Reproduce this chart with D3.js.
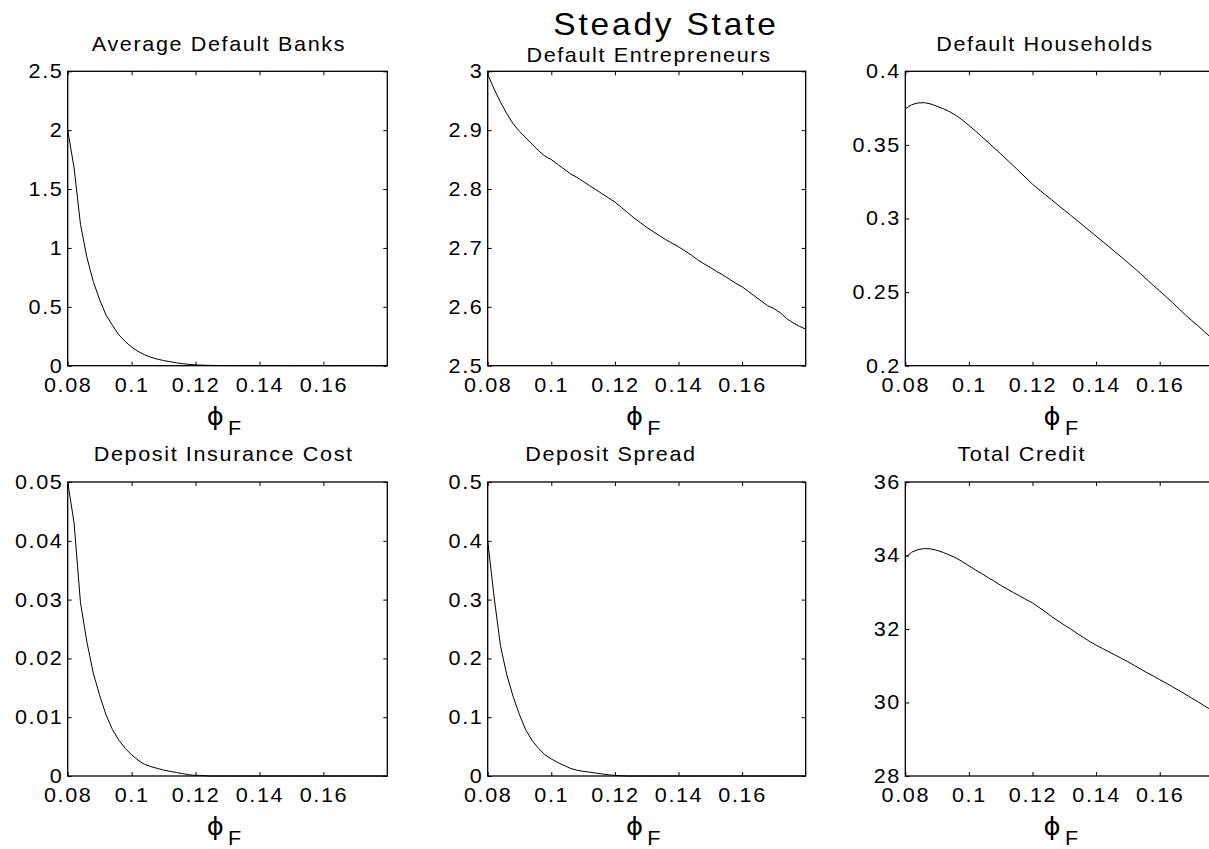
<!DOCTYPE html>
<html>
<head>
<meta charset="utf-8">
<script src="https://cdn.jsdelivr.net/npm/d3@7"></script>
<style>
  html, body { margin: 0; padding: 0; background: #fff; overflow: hidden; }
  svg { display: block; }
</style>
</head>
<body>
<svg id="fig" width="1209" height="849"></svg>
<script>
// Grid of the capital requirement parameter phi_F
const phiF = [
  0.080, 0.082, 0.084, 0.086, 0.088, 0.090, 0.092, 0.094, 0.096, 0.098,
  0.100, 0.102, 0.104, 0.106, 0.108, 0.110, 0.112, 0.114, 0.116, 0.118,
  0.120, 0.122, 0.124, 0.126, 0.128, 0.130, 0.132, 0.134, 0.136, 0.138,
  0.140, 0.142, 0.144, 0.146, 0.148, 0.150, 0.152, 0.154, 0.156, 0.158,
  0.160, 0.162, 0.164, 0.166, 0.168, 0.170, 0.172, 0.174, 0.176, 0.178, 0.180
];

// Steady-state outcomes along the grid
const defaultBanks = [
  2.00, 1.68, 1.20, 0.92, 0.715, 0.56, 0.43, 0.343, 0.262, 0.205,
  0.158, 0.122, 0.094, 0.072, 0.056, 0.044, 0.034, 0.025, 0.017, 0.011,
  0.007, 0.005, 0.003, 0.002, 0.0015, 0.001, 0.0008, 0.0006, 0.0005, 0.0004,
  0.0003, 0.0003, 0.0002, 0.0002, 0.0002, 0.0001, 0.0001, 0.0001, 0.0001, 0.0001,
  0.0001, 0, 0, 0, 0, 0, 0, 0, 0, 0, 0
];
const defaultEntrepreneurs = [
  2.995, 2.970, 2.948, 2.928, 2.911, 2.898, 2.887, 2.876, 2.865, 2.856,
  2.850, 2.842, 2.834, 2.826, 2.820, 2.813, 2.806, 2.799, 2.792, 2.785,
  2.778, 2.769, 2.760, 2.751, 2.743, 2.735, 2.728, 2.721, 2.714, 2.708,
  2.702, 2.695, 2.688, 2.680, 2.673, 2.667, 2.660, 2.654, 2.647, 2.640,
  2.634, 2.626, 2.618, 2.610, 2.602, 2.597, 2.590, 2.580, 2.573, 2.567, 2.562
];
const defaultHouseholds = [
  0.3745, 0.3773, 0.3785, 0.3787, 0.3778, 0.3762, 0.3745, 0.3725, 0.3700, 0.3668,
  0.3632, 0.3596, 0.3557, 0.3518, 0.3479, 0.3440, 0.3399, 0.3358, 0.3316, 0.3275,
  0.3233, 0.3197, 0.3162, 0.3127, 0.3092, 0.3057, 0.3022, 0.2987, 0.2951, 0.2916,
  0.2880, 0.2845, 0.2809, 0.2773, 0.2737, 0.2700, 0.2663, 0.2625, 0.2585, 0.2545,
  0.2508, 0.2469, 0.2429, 0.2388, 0.2347, 0.2308, 0.2272, 0.2232, 0.2193, 0.2155, 0.2118
];
const depositInsuranceCost = [
  0.0500, 0.0430, 0.0295, 0.0228, 0.0175, 0.0137, 0.0104, 0.0079, 0.0061, 0.0047,
  0.0036, 0.0027, 0.0020, 0.0016, 0.0013, 0.0010, 0.0008, 0.0006, 0.0004, 0.0002,
  0.0001, 0.0001, 0, 0, 0, 0, 0, 0, 0, 0,
  0, 0, 0, 0, 0, 0, 0, 0, 0, 0,
  0, 0, 0, 0, 0, 0, 0, 0, 0, 0, 0
];
const depositSpread = [
  0.400, 0.305, 0.222, 0.172, 0.135, 0.104, 0.078, 0.060, 0.047, 0.036,
  0.029, 0.023, 0.018, 0.013, 0.010, 0.008, 0.0065, 0.005, 0.0035, 0.002,
  0.001, 0.0005, 0, 0, 0, 0, 0, 0, 0, 0,
  0, 0, 0, 0, 0, 0, 0, 0, 0, 0,
  0, 0, 0, 0, 0, 0, 0, 0, 0, 0, 0
];
const totalCredit = [
  33.95, 34.09, 34.16, 34.19, 34.18, 34.14, 34.08, 34.01, 33.93, 33.83,
  33.72, 33.61, 33.51, 33.40, 33.30, 33.19, 33.09, 32.99, 32.90, 32.80,
  32.71, 32.59, 32.47, 32.34, 32.22, 32.11, 32.00, 31.88, 31.77, 31.66,
  31.56, 31.47, 31.38, 31.29, 31.20, 31.11, 31.01, 30.91, 30.81, 30.72,
  30.62, 30.53, 30.43, 30.33, 30.23, 30.12, 30.02, 29.91, 29.81, 29.70, 29.59
];

// Tick values
const xDomain = [0.08, 0.18];
const xTicks = [0.08, 0.1, 0.12, 0.14, 0.16];
const yTicksBanks = [0, 0.5, 1, 1.5, 2, 2.5];
const yTicksEntrepreneurs = [2.5, 2.6, 2.7, 2.8, 2.9, 3];
const yTicksHouseholds = [0.2, 0.25, 0.3, 0.35, 0.4];
const yTicksInsurance = [0, 0.01, 0.02, 0.03, 0.04, 0.05];
const yTicksSpread = [0, 0.1, 0.2, 0.3, 0.4, 0.5];
const yTicksCredit = [28, 30, 32, 34, 36];

const panels = [
  { title: "Average Default Banks", values: defaultBanks, yTicks: yTicksBanks, col: 0, row: 0 },
  { title: "Default Entrepreneurs", values: defaultEntrepreneurs, yTicks: yTicksEntrepreneurs, col: 1, row: 0 },
  { title: "Default Households", values: defaultHouseholds, yTicks: yTicksHouseholds, col: 2, row: 0 },
  { title: "Deposit Insurance Cost", values: depositInsuranceCost, yTicks: yTicksInsurance, col: 0, row: 1 },
  { title: "Deposit Spread", values: depositSpread, yTicks: yTicksSpread, col: 1, row: 1 },
  { title: "Total Credit", values: totalCredit, yTicks: yTicksCredit, col: 2, row: 1 }
];

// Layout of the 2x3 grid of axes
const colLeft = [67.7, 487.7, 905.3];
const colWidth = [319.6, 318, 318];
const rowTop = [71.3, 482];
const rowHeight = [294.4, 294];
const titleX = [219, 649, 1045, 223.7, 611, 1021.7];
const titleY = [51, 61.7, 51, 460.7, 460.7, 460.7];

const FONT = "'Liberation Sans', Arial, Helvetica, sans-serif";
const SX = 1.08;         // horizontal stretch of the lettering
const TICK = 4;          // inward tick length

const svg = d3.select("#fig");
const fmt = d => String(+d.toFixed(4));

function styleText(sel, size, ls) {
  sel.attr("font-family", FONT)
     .attr("font-size", size)
     .attr("letter-spacing", ls)
     .attr("fill", "#000");
}

panels.forEach((p, i) => {
  const left = colLeft[p.col], top = rowTop[p.row];
  const w = colWidth[p.col], h = rowHeight[p.row];
  const yDomain = [p.yTicks[0], p.yTicks[p.yTicks.length - 1]];

  const x = d3.scaleLinear().domain(xDomain).range([0, w]);
  const y = d3.scaleLinear().domain(yDomain).range([h, 0]);

  const g = svg.append("g").attr("transform", `translate(${left},${top})`);

  const clipId = "clip" + i;
  g.append("clipPath").attr("id", clipId)
    .append("rect").attr("x", 0).attr("y", -1).attr("width", w).attr("height", h + 2);

  // curve
  g.append("path")
    .datum(p.values)
    .attr("clip-path", `url(#${clipId})`)
    .attr("fill", "none")
    .attr("stroke", "#000")
    .attr("stroke-width", 1)
    .attr("d", d3.line().x((d, k) => x(phiF[k])).y(d => y(d)));

  // axes with inward ticks on all four sides
  const axB = g.append("g").attr("transform", `translate(0,${h})`)
    .call(d3.axisBottom(x).tickValues(xTicks).tickSizeInner(-TICK).tickSizeOuter(0).tickPadding(12).tickFormat(fmt));
  const axT = g.append("g")
    .call(d3.axisTop(x).tickValues(xTicks).tickSizeInner(-TICK).tickSizeOuter(0).tickFormat(""));
  const axL = g.append("g")
    .call(d3.axisLeft(y).tickValues(p.yTicks).tickSizeInner(-TICK).tickSizeOuter(0).tickPadding(4).tickFormat(fmt));
  const axR = g.append("g").attr("transform", `translate(${w},0)`)
    .call(d3.axisRight(y).tickValues(p.yTicks).tickSizeInner(-TICK).tickSizeOuter(0).tickFormat(""));

  [axB, axT, axL, axR].forEach(a => {
    a.select(".domain").remove();
    a.selectAll(".tick line").attr("stroke", "#000").attr("stroke-width", 1);
  });
  [axB, axL].forEach(a => {
    a.selectAll(".tick text")
      .call(styleText, 20, 1.5)
      .attr("transform", `scale(${SX},1)`);
  });

  // box
  g.append("rect")
    .attr("x", 0).attr("y", 0).attr("width", w).attr("height", h)
    .attr("fill", "none").attr("stroke", "#000").attr("stroke-width", 1.3);

  // subplot title
  svg.append("text")
    .attr("transform", `translate(${titleX[i]},${titleY[i]}) scale(${SX},1)`)
    .attr("text-anchor", "middle")
    .call(styleText, 20, 1.5)
    .text(p.title);

  // x label: phi_F
  const lab = svg.append("text")
    .attr("transform", `translate(${left + w / 2 - 3.5},${top + h + 59}) scale(${SX},1)`)
    .attr("text-anchor", "middle")
    .attr("fill", "#000");
  lab.append("tspan")
    .attr("font-family", "'DejaVu Sans', sans-serif")
    .attr("font-size", 24)
    .text("\u03D5");
  lab.append("tspan")
    .attr("font-family", FONT)
    .attr("font-size", 20)
    .attr("dx", 4)
    .attr("dy", 10)
    .text("F");
});

// figure title
svg.append("text")
  .attr("transform", `translate(666,35) scale(${SX},1)`)
  .attr("text-anchor", "middle")
  .call(styleText, 31, 2.6)
  .text("Steady State");
</script>
</body>
</html>
